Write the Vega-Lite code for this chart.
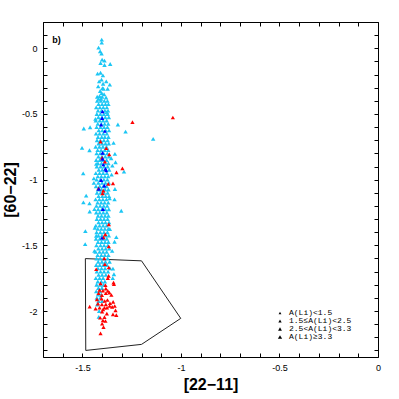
{
"$schema":"https://vega.github.io/schema/vega-lite/v6.json",
"width":335,"height":335,
"autosize":"none",
"padding":{"left":43,"top":22,"right":21,"bottom":42},
"background":"white",
"config":{"view":{"stroke":"black","strokeWidth":1},"font":"Liberation Sans"},
"datasets":{
"poly":[{"o":1,"x":-1.485,"y":-1.601},{"o":2,"x":-1.2,"y":-1.618},{"o":3,"x":-1.001,"y":-2.056},{"o":4,"x":-1.2,"y":-2.254},{"o":5,"x":-1.483,"y":-2.3},{"o":6,"x":-1.485,"y":-1.601}],
"cyan":[
{"x":-1.402,"y":0.066},{"x":-1.402,"y":0.043},{"x":-1.418,"y":0.005},{"x":-1.41,"y":-0.023},{"x":-1.403,"y":-0.04},{"x":-1.4,"y":-0.086},{"x":-1.388,"y":-0.094},{"x":-1.408,"y":-0.112},{"x":-1.388,"y":-0.127},{"x":-1.359,"y":-0.12},{"x":-1.423,"y":-0.193},{"x":-1.408,"y":-0.186},{"x":-1.396,"y":-0.206},{"x":-1.403,"y":-0.239},{"x":-1.415,"y":-0.252},{"x":-1.379,"y":-0.252},{"x":-1.361,"y":-0.277},{"x":-1.398,"y":-0.303},{"x":-1.393,"y":-0.308},{"x":-1.372,"y":-0.308},{"x":-1.402,"y":-0.341},{"x":-1.413,"y":-0.364},{"x":-1.425,"y":-0.369},{"x":-1.4,"y":-0.369},{"x":-1.418,"y":-0.384},{"x":-1.405,"y":-0.384},{"x":-1.39,"y":-0.35},{"x":-1.38,"y":-0.375},{"x":-1.41,"y":-0.325},{"x":-1.395,"y":-0.27},{"x":-1.42,"y":-0.29},
{"x":-1.425,"y":-0.4},{"x":-1.407,"y":-0.4},{"x":-1.389,"y":-0.4},{"x":-1.373,"y":-0.4},
{"x":-1.418,"y":-0.425},{"x":-1.4,"y":-0.425},{"x":-1.383,"y":-0.425},{"x":-1.368,"y":-0.425},
{"x":-1.43,"y":-0.45},{"x":-1.411,"y":-0.45},{"x":-1.394,"y":-0.45},{"x":-1.376,"y":-0.45},
{"x":-1.421,"y":-0.475},{"x":-1.403,"y":-0.475},{"x":-1.386,"y":-0.475},{"x":-1.37,"y":-0.475},
{"x":-1.427,"y":-0.5},{"x":-1.409,"y":-0.5},{"x":-1.391,"y":-0.5},{"x":-1.372,"y":-0.5},
{"x":-1.419,"y":-0.525},{"x":-1.401,"y":-0.525},{"x":-1.384,"y":-0.525},{"x":-1.366,"y":-0.525},
{"x":-1.432,"y":-0.55},{"x":-1.412,"y":-0.55},{"x":-1.395,"y":-0.55},{"x":-1.377,"y":-0.55},
{"x":-1.422,"y":-0.575},{"x":-1.404,"y":-0.575},{"x":-1.387,"y":-0.575},{"x":-1.369,"y":-0.575},
{"x":-1.428,"y":-0.6},{"x":-1.408,"y":-0.6},{"x":-1.39,"y":-0.6},{"x":-1.373,"y":-0.6},
{"x":-1.417,"y":-0.625},{"x":-1.399,"y":-0.625},{"x":-1.382,"y":-0.625},{"x":-1.365,"y":-0.625},
{"x":-1.431,"y":-0.65},{"x":-1.413,"y":-0.65},{"x":-1.394,"y":-0.65},{"x":-1.376,"y":-0.65},
{"x":-1.421,"y":-0.675},{"x":-1.402,"y":-0.675},{"x":-1.386,"y":-0.675},{"x":-1.368,"y":-0.675},
{"x":-1.426,"y":-0.7},{"x":-1.409,"y":-0.7},{"x":-1.391,"y":-0.7},{"x":-1.372,"y":-0.7},
{"x":-1.418,"y":-0.725},{"x":-1.4,"y":-0.725},{"x":-1.383,"y":-0.725},{"x":-1.366,"y":-0.725},
{"x":-1.433,"y":-0.75},{"x":-1.414,"y":-0.75},{"x":-1.396,"y":-0.75},{"x":-1.378,"y":-0.75},
{"x":-1.423,"y":-0.775},{"x":-1.405,"y":-0.775},{"x":-1.387,"y":-0.775},{"x":-1.369,"y":-0.775},
{"x":-1.428,"y":-0.8},{"x":-1.41,"y":-0.8},{"x":-1.392,"y":-0.8},{"x":-1.374,"y":-0.8},
{"x":-1.419,"y":-0.825},{"x":-1.401,"y":-0.825},{"x":-1.384,"y":-0.825},{"x":-1.365,"y":-0.825},
{"x":-1.43,"y":-0.85},{"x":-1.412,"y":-0.85},{"x":-1.394,"y":-0.85},{"x":-1.377,"y":-0.85},
{"x":-1.421,"y":-0.875},{"x":-1.403,"y":-0.875},{"x":-1.385,"y":-0.875},{"x":-1.368,"y":-0.875},
{"x":-1.427,"y":-0.9},{"x":-1.408,"y":-0.9},{"x":-1.39,"y":-0.9},{"x":-1.372,"y":-0.9},
{"x":-1.417,"y":-0.925},{"x":-1.399,"y":-0.925},{"x":-1.382,"y":-0.925},{"x":-1.364,"y":-0.925},
{"x":-1.432,"y":-0.95},{"x":-1.413,"y":-0.95},{"x":-1.395,"y":-0.95},{"x":-1.376,"y":-0.95},
{"x":-1.422,"y":-0.975},{"x":-1.404,"y":-0.975},{"x":-1.386,"y":-0.975},{"x":-1.369,"y":-0.975},
{"x":-1.428,"y":-1.0},{"x":-1.409,"y":-1.0},{"x":-1.391,"y":-1.0},{"x":-1.373,"y":-1.0},
{"x":-1.419,"y":-1.025},{"x":-1.4,"y":-1.025},{"x":-1.383,"y":-1.025},{"x":-1.366,"y":-1.025},
{"x":-1.431,"y":-1.05},{"x":-1.412,"y":-1.05},{"x":-1.394,"y":-1.05},{"x":-1.377,"y":-1.05},
{"x":-1.421,"y":-1.075},{"x":-1.403,"y":-1.075},{"x":-1.385,"y":-1.075},{"x":-1.368,"y":-1.075},
{"x":-1.426,"y":-1.1},{"x":-1.408,"y":-1.1},{"x":-1.39,"y":-1.1},{"x":-1.372,"y":-1.1},
{"x":-1.418,"y":-1.125},{"x":-1.399,"y":-1.125},{"x":-1.382,"y":-1.125},{"x":-1.365,"y":-1.125},
{"x":-1.433,"y":-1.15},{"x":-1.414,"y":-1.15},{"x":-1.396,"y":-1.15},{"x":-1.378,"y":-1.15},
{"x":-1.423,"y":-1.175},{"x":-1.405,"y":-1.175},{"x":-1.387,"y":-1.175},{"x":-1.369,"y":-1.175},
{"x":-1.429,"y":-1.2},{"x":-1.41,"y":-1.2},{"x":-1.392,"y":-1.2},{"x":-1.374,"y":-1.2},
{"x":-1.42,"y":-1.225},{"x":-1.401,"y":-1.225},{"x":-1.384,"y":-1.225},{"x":-1.366,"y":-1.225},
{"x":-1.43,"y":-1.25},{"x":-1.412,"y":-1.25},{"x":-1.394,"y":-1.25},{"x":-1.376,"y":-1.25},
{"x":-1.421,"y":-1.275},{"x":-1.403,"y":-1.275},{"x":-1.385,"y":-1.275},{"x":-1.368,"y":-1.275},
{"x":-1.427,"y":-1.3},{"x":-1.408,"y":-1.3},{"x":-1.39,"y":-1.3},{"x":-1.372,"y":-1.3},
{"x":-1.418,"y":-1.325},{"x":-1.4,"y":-1.325},{"x":-1.383,"y":-1.325},{"x":-1.365,"y":-1.325},
{"x":-1.432,"y":-1.35},{"x":-1.413,"y":-1.35},{"x":-1.395,"y":-1.35},{"x":-1.377,"y":-1.35},
{"x":-1.422,"y":-1.375},{"x":-1.404,"y":-1.375},{"x":-1.386,"y":-1.375},{"x":-1.369,"y":-1.375},
{"x":-1.428,"y":-1.4},{"x":-1.409,"y":-1.4},{"x":-1.391,"y":-1.4},{"x":-1.373,"y":-1.4},
{"x":-1.419,"y":-1.425},{"x":-1.401,"y":-1.425},{"x":-1.384,"y":-1.425},{"x":-1.366,"y":-1.425},
{"x":-1.431,"y":-1.45},{"x":-1.412,"y":-1.45},{"x":-1.394,"y":-1.45},{"x":-1.376,"y":-1.45},
{"x":-1.421,"y":-1.475},{"x":-1.403,"y":-1.475},{"x":-1.385,"y":-1.475},{"x":-1.368,"y":-1.475},
{"x":-1.429,"y":-1.5},{"x":-1.408,"y":-1.5},{"x":-1.39,"y":-1.5},{"x":-1.371,"y":-1.5},
{"x":-1.419,"y":-1.525},{"x":-1.4,"y":-1.525},{"x":-1.382,"y":-1.525},{"x":-1.364,"y":-1.525},
{"x":-1.433,"y":-1.55},{"x":-1.413,"y":-1.55},{"x":-1.395,"y":-1.55},{"x":-1.377,"y":-1.55},
{"x":-1.423,"y":-1.575},{"x":-1.404,"y":-1.575},{"x":-1.386,"y":-1.575},{"x":-1.368,"y":-1.575},
{"x":-1.428,"y":-1.6},{"x":-1.41,"y":-1.6},{"x":-1.392,"y":-1.6},{"x":-1.372,"y":-1.6},
{"x":-1.42,"y":-1.625},{"x":-1.401,"y":-1.625},{"x":-1.383,"y":-1.625},{"x":-1.362,"y":-1.625},
{"x":-1.43,"y":-1.65},{"x":-1.412,"y":-1.65},{"x":-1.394,"y":-1.65},{"x":-1.375,"y":-1.65},
{"x":-1.421,"y":-1.675},{"x":-1.403,"y":-1.675},{"x":-1.385,"y":-1.675},{"x":-1.36,"y":-1.675},
{"x":-1.427,"y":-1.7},{"x":-1.408,"y":-1.7},{"x":-1.39,"y":-1.7},{"x":-1.37,"y":-1.7},
{"x":-1.418,"y":-1.725},{"x":-1.4,"y":-1.725},{"x":-1.381,"y":-1.725},
{"x":-1.432,"y":-1.75},{"x":-1.413,"y":-1.75},{"x":-1.395,"y":-1.75},
{"x":-1.422,"y":-1.775},{"x":-1.404,"y":-1.775},{"x":-1.386,"y":-1.775},
{"x":-1.428,"y":-1.8},{"x":-1.41,"y":-1.8},{"x":-1.392,"y":-1.8},
{"x":-1.419,"y":-1.825},{"x":-1.401,"y":-1.825},
{"x":-1.43,"y":-1.85},{"x":-1.412,"y":-1.85},
{"x":-1.421,"y":-1.875},{"x":-1.404,"y":-1.875},
{"x":-1.427,"y":-1.9},{"x":-1.409,"y":-1.9},
{"x":-1.418,"y":-1.925},{"x":-1.4,"y":-1.925},
{"x":-1.425,"y":-1.95},{"x":-1.415,"y":-2.0},{"x":-1.417,"y":-2.045},
{"x":-1.493,"y":-0.611},{"x":-1.461,"y":-0.601},{"x":-1.32,"y":-0.58},{"x":-1.281,"y":-0.634},{"x":-1.141,"y":-0.69},{"x":-1.502,"y":-0.758},{"x":-1.464,"y":-0.776},{"x":-1.342,"y":-0.72},{"x":-1.335,"y":-0.804},{"x":-1.43,"y":-0.88},{"x":-1.354,"y":-0.837},{"x":-1.332,"y":-0.868},{"x":-1.348,"y":-0.893},{"x":-1.434,"y":-0.537},{"x":-1.376,"y":-0.486},{"x":-1.496,"y":-0.952},{"x":-1.289,"y":-0.939},{"x":-1.352,"y":-0.962},{"x":-1.442,"y":-0.99},{"x":-1.442,"y":-1.025},{"x":-1.335,"y":-1.071},{"x":-1.481,"y":-1.122},{"x":-1.495,"y":-1.173},{"x":-1.464,"y":-1.181},{"x":-1.362,"y":-1.143},{"x":-1.337,"y":-1.15},{"x":-1.303,"y":-1.237},{"x":-1.463,"y":-1.242},{"x":-1.439,"y":-1.224},{"x":-1.485,"y":-1.392},{"x":-1.437,"y":-1.366},{"x":-1.361,"y":-1.376},{"x":-1.328,"y":-1.438},{"x":-1.43,"y":-1.427},{"x":-1.486,"y":-1.491},{"x":-1.337,"y":-1.473},{"x":-1.349,"y":-1.542},{"x":-1.439,"y":-1.542},{"x":-1.345,"y":-1.677},{"x":-1.34,"y":-1.72},{"x":-1.346,"y":-1.75}
],
"red":[
{"x":-1.246,"y":-0.562},{"x":-1.041,"y":-0.527},{"x":-1.408,"y":-0.71},{"x":-1.379,"y":-0.761},{"x":-1.364,"y":-0.807},{"x":-1.386,"y":-0.863},{"x":-1.297,"y":-0.914},{"x":-1.4,"y":-0.832},{"x":-1.327,"y":-0.944},{"x":-1.369,"y":-1.033},{"x":-1.345,"y":-1.028},{"x":-1.418,"y":-1.066},{"x":-1.394,"y":-1.084},{"x":-1.398,"y":-1.105},{"x":-1.366,"y":-1.341},{"x":-1.384,"y":-1.417},{"x":-1.393,"y":-1.44},{"x":-1.366,"y":-1.509},{"x":-1.389,"y":-1.6},{"x":-1.386,"y":-1.644},{"x":-1.366,"y":-1.669},{"x":-1.43,"y":-1.682},{"x":-1.367,"y":-1.733},{"x":-1.371,"y":-1.75},{"x":-1.342,"y":-1.784},{"x":-1.408,"y":-1.789},{"x":-1.383,"y":-1.804},{"x":-1.34,"y":-1.796},
{"x":-1.413,"y":-1.84},{"x":-1.396,"y":-1.845},{"x":-1.381,"y":-1.83},{"x":-1.371,"y":-1.847},
{"x":-1.418,"y":-1.865},{"x":-1.401,"y":-1.88},{"x":-1.381,"y":-1.865},{"x":-1.363,"y":-1.86},{"x":-1.353,"y":-1.878},
{"x":-1.426,"y":-1.911},{"x":-1.403,"y":-1.906},{"x":-1.387,"y":-1.924},{"x":-1.373,"y":-1.916},{"x":-1.421,"y":-1.944},{"x":-1.401,"y":-1.949},{"x":-1.381,"y":-1.949},{"x":-1.36,"y":-1.941},{"x":-1.344,"y":-1.931},
{"x":-1.463,"y":-1.967},{"x":-1.433,"y":-1.982},{"x":-1.413,"y":-1.975},{"x":-1.395,"y":-1.987},{"x":-1.375,"y":-1.975},{"x":-1.349,"y":-1.969},{"x":-1.336,"y":-1.962},
{"x":-1.388,"y":-1.975},{"x":-1.362,"y":-1.962},{"x":-1.332,"y":-1.995},{"x":-1.345,"y":-2.025},{"x":-1.328,"y":-2.031},{"x":-1.4,"y":-2.005},{"x":-1.376,"y":-2.02},{"x":-1.388,"y":-2.046},{"x":-1.41,"y":-2.051},{"x":-1.396,"y":-2.071},{"x":-1.383,"y":-2.076},{"x":-1.4,"y":-2.097},{"x":-1.393,"y":-2.122},{"x":-1.408,"y":-2.17}
],
"blue":[
{"x":-1.398,"y":-0.481,"a":"4"},{"x":-1.4,"y":-0.532,"a":"4"},{"x":-1.405,"y":-0.582,"a":"4"},{"x":-1.386,"y":-0.631,"a":"3"},{"x":-1.398,"y":-0.796,"a":"4"},{"x":-1.398,"y":-0.842,"a":"4"},{"x":-1.394,"y":-0.885,"a":"3"},{"x":-1.383,"y":-0.918,"a":"4"},{"x":-1.379,"y":-0.931,"a":"3"},{"x":-1.405,"y":-1.003,"a":"4"},{"x":-1.389,"y":-1.046,"a":"4"},{"x":-1.417,"y":-1.071,"a":"4"},{"x":-1.396,"y":-1.224,"a":"4"},{"x":-1.401,"y":-1.443,"a":"3"}
],
"leg":[{"a":"1","x":1,"y":1},{"a":"2","x":1,"y":1},{"a":"3","x":1,"y":1},{"a":"4","x":1,"y":1}],
"lab":[{"x":-1.653,"y":0.061,"t":"b)"}]
},
"layer":[
{"data":{"name":"poly"},"mark":{"type":"line","color":"#222222","strokeWidth":1},
"encoding":{
"x":{"field":"x","type":"quantitative","scale":{"domain":[-1.7,0],"nice":false,"zero":false},
"axis":{"orient":"bottom","values":[-1.7,-1.6,-1.5,-1.4,-1.3,-1.2,-1.1,-1.0,-0.9,-0.8,-0.7,-0.6,-0.5,-0.4,-0.3,-0.2,-0.1,0],"labelExpr":"abs(datum.value*2-round(datum.value*2))<0.001 ? replace(format(datum.value,'~g'),'\u2212','-') : ''","tickSize":-4,"tickColor":"black","domain":false,"grid":false,"labelFont":"Liberation Sans","labelFontSize":9,"labelColor":"black","labelPadding":10,"labelFlush":false,"labelOverlap":false,"title":"[22\u221211]","titleFont":"Liberation Sans","titleFontSize":16,"titleFontWeight":"bold","titleColor":"black","titlePadding":4}},
"y":{"field":"y","type":"quantitative","scale":{"domain":[-2.35,0.2],"nice":false,"zero":false},
"axis":{"orient":"left","values":[-2.3,-2.2,-2.1,-2.0,-1.9,-1.8,-1.7,-1.6,-1.5,-1.4,-1.3,-1.2,-1.1,-1.0,-0.9,-0.8,-0.7,-0.6,-0.5,-0.4,-0.3,-0.2,-0.1,0,0.1,0.2],"labelExpr":"abs(datum.value*2-round(datum.value*2))<0.001 ? replace(format(datum.value,'~g'),'\u2212','-') : ''","tickSize":-4,"tickColor":"black","domain":false,"grid":false,"labelFont":"Liberation Sans","labelFontSize":9,"labelColor":"black","labelPadding":10,"labelOverlap":false,"labelFlush":false,"title":"[60\u221222]","titleFont":"Liberation Sans","titleFontSize":16,"titleFontWeight":"bold","titleColor":"black","titlePadding":3}},
"order":{"field":"o","type":"quantitative"}}},
{"data":{"name":"cyan"},"mark":{"type":"point","shape":"triangle-up","filled":true,"opacity":1,"color":"#1cc6f4","size":20},
"encoding":{
"x":{"field":"x","type":"quantitative","scale":{"domain":[-1.7,0],"nice":false,"zero":false},
"axis":{"orient":"top","values":[-1.7,-1.6,-1.5,-1.4,-1.3,-1.2,-1.1,-1.0,-0.9,-0.8,-0.7,-0.6,-0.5,-0.4,-0.3,-0.2,-0.1,0],"labels":false,"tickSize":-4,"tickColor":"black","domain":false,"grid":false,"title":null}},
"y":{"field":"y","type":"quantitative","scale":{"domain":[-2.35,0.2],"nice":false,"zero":false},
"axis":{"orient":"right","values":[-2.3,-2.2,-2.1,-2.0,-1.9,-1.8,-1.7,-1.6,-1.5,-1.4,-1.3,-1.2,-1.1,-1.0,-0.9,-0.8,-0.7,-0.6,-0.5,-0.4,-0.3,-0.2,-0.1,0,0.1,0.2],"labels":false,"tickSize":-4,"tickColor":"black","domain":false,"grid":false,"title":null}}}},
{"data":{"name":"red"},"mark":{"type":"point","shape":"triangle-up","filled":true,"opacity":1,"color":"#ff0000","size":18},
"encoding":{
"x":{"field":"x","type":"quantitative","scale":{"domain":[-1.7,0],"nice":false,"zero":false},"axis":null},
"y":{"field":"y","type":"quantitative","scale":{"domain":[-2.35,0.2],"nice":false,"zero":false},"axis":null}}},
{"data":{"name":"leg"},"mark":{"type":"point","shape":"triangle-up","filled":true,"opacity":1,"color":"black","clip":true},
"encoding":{
"x":{"field":"x","type":"quantitative","scale":{"domain":[-1.7,0],"nice":false,"zero":false},"axis":null},
"y":{"field":"y","type":"quantitative","scale":{"domain":[-2.35,0.2],"nice":false,"zero":false},"axis":null},
"size":{"field":"a","type":"ordinal","scale":{"domain":["1","2","3","4"],"range":[8,18,32,55]},
"legend":{"title":null,"orient":"none","legendX":233,"legendY":287,"padding":0,"symbolType":"triangle-up","symbolStrokeWidth":0,"labelFont":"Liberation Mono","labelFontSize":8,"labelColor":"black","labelOffset":5,"rowPadding":0,"labelExpr":"datum.label=='1'?'A(Li)<1.5':datum.label=='2'?'1.5\u2264A(Li)<2.5':datum.label=='3'?'2.5<A(Li)<3.3':'A(Li)\u22653.3'"}}}},
{"data":{"name":"blue"},"mark":{"type":"point","shape":"triangle-up","filled":true,"opacity":1,"color":"#0000ff"},
"encoding":{
"x":{"field":"x","type":"quantitative","scale":{"domain":[-1.7,0],"nice":false,"zero":false},"axis":null},
"y":{"field":"y","type":"quantitative","scale":{"domain":[-2.35,0.2],"nice":false,"zero":false},"axis":null},
"size":{"field":"a","type":"ordinal","scale":{"domain":["1","2","3","4"],"range":[8,18,32,55]},"legend":null}}},
{"data":{"name":"lab"},"mark":{"type":"text","align":"left","baseline":"middle","font":"Liberation Sans","fontWeight":"bold","fontSize":9,"color":"black"},
"encoding":{
"x":{"field":"x","type":"quantitative","scale":{"domain":[-1.7,0],"nice":false,"zero":false},"axis":null},
"y":{"field":"y","type":"quantitative","scale":{"domain":[-2.35,0.2],"nice":false,"zero":false},"axis":null},
"text":{"field":"t"}}}
],
"resolve":{"axis":{"x":"independent","y":"independent"}}
}
